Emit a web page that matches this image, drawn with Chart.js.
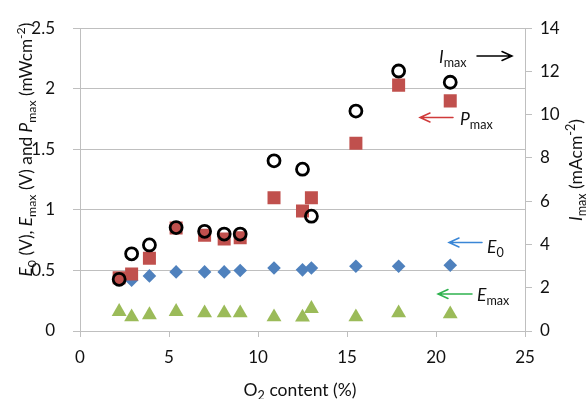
<!DOCTYPE html>
<html>
<head>
<meta charset="utf-8">
<script src="https://cdn.jsdelivr.net/npm/chart.js@4.4.1/dist/chart.umd.min.js"></script>
<style>
html,body{margin:0;padding:0;background:#fff;}
canvas{display:block;}
</style>
</head>
<body>
<canvas id="c" width="587" height="399"></canvas>
<script>
// ---- data ----
const o2Content = [2.2, 2.9, 3.9, 5.4, 7.0, 8.1, 9.0, 10.9, 12.5, 13.0, 15.5, 17.9, 20.8];
const e0Values   = [0.43, 0.42, 0.455, 0.488, 0.488, 0.488, 0.50, 0.52, 0.505, 0.52, 0.534, 0.534, 0.543];
const emaxValues = [0.16, 0.115, 0.133, 0.16, 0.148, 0.148, 0.148, 0.115, 0.113, 0.185, 0.115, 0.148, 0.14];
const pmaxValues = [0.44, 0.47, 0.60, 0.85, 0.79, 0.76, 0.77, 1.10, 0.99, 1.10, 1.55, 2.03, 1.90];
const imaxValues = [2.39, 3.57, 3.98, 4.78, 4.61, 4.48, 4.48, 7.87, 7.48, 5.31, 10.17, 12.02, 11.5];
const xTicks  = [0, 5, 10, 15, 20, 25];
const yTicks  = [0, 0.5, 1, 1.5, 2, 2.5];
const y2Ticks = [0, 2, 4, 6, 8, 10, 12, 14];

const FONT = 'Lato';
const TXT = '#111111';
const GRID = '#bfbfbf';

function pts(ys){ return o2Content.map((x,i)=>({x:x, y:ys[i]})); }

// rich text: parts [{t, i, sub, sup}]
function partFont(p, base){
  const size = (p.sub||p.sup) ? base*0.72 : base;
  return (p.i ? 'italic ' : '') + size + 'px ' + FONT;
}
function richWidth(ctx, parts, base){
  let w = 0;
  parts.forEach(p=>{ ctx.font = partFont(p, base); w += ctx.measureText(p.t).width; });
  return w;
}
function drawRich(ctx, parts, x, y, align, base){
  base = base || 17;
  const w = richWidth(ctx, parts, base);
  let cx = align==='center' ? x - w/2 : (align==='right' ? x - w : x);
  ctx.fillStyle = TXT;
  ctx.textBaseline = 'alphabetic';
  ctx.textAlign = 'left';
  parts.forEach(p=>{
    ctx.font = partFont(p, base);
    const dy = p.sub ? 4 : (p.sup ? -7 : 0);
    ctx.fillText(p.t, cx, y + dy);
    cx += ctx.measureText(p.t).width;
  });
}
function arrow(ctx, x1, y, x2, color){
  const dir = x2 > x1 ? 1 : -1;
  ctx.save();
  ctx.strokeStyle = color;
  ctx.lineWidth = 1.5;
  ctx.lineCap = 'round';
  ctx.beginPath();
  ctx.moveTo(x1, y); ctx.lineTo(x2, y);
  ctx.moveTo(x2 - dir*10, y - 4.5); ctx.lineTo(x2, y); ctx.lineTo(x2 - dir*10, y + 4.5);
  ctx.stroke();
  ctx.restore();
}

const titlePlugin = {
  id: 'titles',
  afterDraw(chart){
    const ctx = chart.ctx;
    ctx.save();
    // x-axis title
    drawRich(ctx, [{t:'O'},{t:'2',sub:true},{t:' content (%)'}], 300, 396, 'center', 17.5);
    // left y title
    ctx.save();
    ctx.translate(31.5, 149.5);
    ctx.rotate(-Math.PI/2);
    drawRich(ctx, [
      {t:'E',i:true},{t:'0',sub:true},{t:' (V), '},
      {t:'E',i:true},{t:'max',sub:true},{t:' (V) and '},
      {t:'P',i:true},{t:'max',sub:true},{t:' (mWcm'},{t:'-2',sup:true},{t:')'}
    ], 0, 0, 'center', 17.2);
    ctx.restore();
    // right y title
    ctx.save();
    ctx.translate(581.5, 170);
    ctx.rotate(-Math.PI/2);
    drawRich(ctx, [{t:'I',i:true},{t:'max',sub:true},{t:' (mAcm'},{t:'-2',sup:true},{t:')'}], 0, 0, 'center', 17.5);
    ctx.restore();

    // annotations
    drawRich(ctx, [{t:'I',i:true},{t:'max',sub:true}], 439, 62.5, 'left', 17.5);
    arrow(ctx, 477, 56, 512, '#000000');
    drawRich(ctx, [{t:'P',i:true},{t:'max',sub:true}], 460, 125, 'left', 17.5);
    arrow(ctx, 453, 117.5, 420, '#d03a3a');
    drawRich(ctx, [{t:'E',i:true},{t:'0',sub:true}], 487, 253, 'left', 17.5);
    arrow(ctx, 482, 242.5, 449, '#3a86d6');
    drawRich(ctx, [{t:'E',i:true},{t:'max',sub:true}], 477, 301, 'left', 17.5);
    arrow(ctx, 472, 294, 438, '#2fb24f');
    ctx.restore();
  }
};

const tickFont = {family: FONT, size: 17};
const fmt = v => String(v);

new Chart(document.getElementById('c'), {
  type: 'scatter',
  data: {
    datasets: [
      { label:'Imax', data: pts(imaxValues), yAxisID:'y2', pointStyle:'circle', radius:6, borderWidth:2.8,
        borderColor:'#000000', backgroundColor:'rgba(0,0,0,0)' },
      { label:'Pmax', data: pts(pmaxValues), yAxisID:'y', pointStyle:'rect', radius:9.2, borderWidth:0,
        borderColor:'#c0504d', backgroundColor:'#c0504d' },
      { label:'Emax', data: pts(emaxValues), yAxisID:'y', pointStyle:'triangle', radius:8.6, borderWidth:0,
        borderColor:'#9bbb59', backgroundColor:'#9bbb59' },
      { label:'E0', data: pts(e0Values), yAxisID:'y', pointStyle:'rectRot', radius:6.8, borderWidth:0,
        borderColor:'#4f81bd', backgroundColor:'#4f81bd' }
    ]
  },
  options: {
    responsive: false,
    animation: false,
    devicePixelRatio: 1,
    layout: { padding: { top: 22, left: 0, right: 0, bottom: 0 } },
    plugins: { legend: { display: false }, tooltip: { enabled: false }, title: { display: false } },
    elements: { point: { hoverRadius: 0 } },
    scales: {
      x: {
        type: 'linear', position: 'bottom', min: 0, max: 25,
        afterBuildTicks: s => { s.ticks = xTicks.map(v => ({value: v})); },
        ticks: { color: TXT, font: tickFont, padding: 10, maxRotation: 0, callback: fmt },
        grid: { drawOnChartArea: false, drawTicks: true, tickLength: 6, color: GRID, lineWidth: 1 },
        border: { color: GRID, width: 1 },
        afterFit: s => { s.height = 68; }
      },
      y: {
        type: 'linear', position: 'left', min: 0, max: 2.5,
        afterBuildTicks: s => { s.ticks = yTicks.map(v => ({value: v})); },
        ticks: { color: TXT, font: tickFont, padding: 18, callback: fmt },
        grid: { color: GRID, tickLength: 7, lineWidth: 1 },
        border: { color: GRID, width: 1 },
        afterFit: s => { s.width = 80; }
      },
      y2: {
        type: 'linear', position: 'right', min: 0, max: 14,
        afterBuildTicks: s => { s.ticks = y2Ticks.map(v => ({value: v})); },
        ticks: { color: TXT, font: tickFont, padding: 8, callback: fmt },
        grid: { drawOnChartArea: false, drawTicks: true, tickLength: 7, color: GRID, lineWidth: 1 },
        border: { color: GRID, width: 1 },
        afterFit: s => { s.width = 62; }
      }
    }
  },
  plugins: [titlePlugin]
});
</script>
</body>
</html>
